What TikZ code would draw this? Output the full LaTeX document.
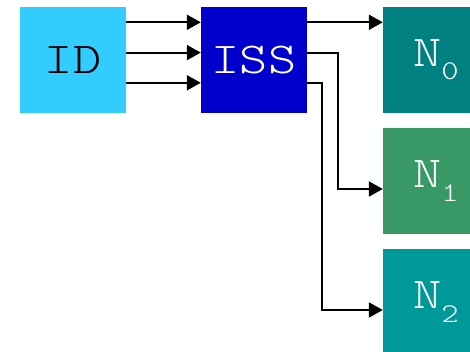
\documentclass[tikz,border=0pt]{standalone}
\usetikzlibrary{arrows.meta,calc}
\definecolor{idc}{HTML}{33CCFF}
\definecolor{issc}{HTML}{0000CC}
\definecolor{nzc}{HTML}{008080}
\definecolor{nonec}{HTML}{389966}
\definecolor{ntwoc}{HTML}{009999}
\newcommand{\wide}[1]{\scalebox{1.22}[1]{#1}}
\newcommand{\subn}[1]{\raisebox{-13.4pt}{\fontsize{27}{27}\selectfont\wide{#1}}}
\begin{document}
\begin{tikzpicture}[x=1pt,y=-1pt,
  box/.style={rectangle,minimum width=106pt,minimum height=106pt,inner sep=0pt,
    font=\fontsize{44}{44}\ttfamily\fontseries{l}\selectfont},
  arr/.style={line width=2pt,-{Triangle[length=14pt,width=15pt]}}]
\useasboundingbox (0,0) rectangle (470,352);
\clip (0,0) rectangle (470,352);
\node[box,fill=idc,text=black] (ID) at (73,60) {\wide{ID}};
\node[box,fill=issc,text=white] (ISS) at (254,60) {\wide{ISS}};
\node[box,fill=nzc,text=white] (N0) at (436,60) {\wide{N}\subn{0}};
\node[box,fill=nonec,text=white] (N1) at (436,181) {\wide{N}\subn{1}};
\node[box,fill=ntwoc,text=white] (N2) at (436,302) {\wide{N}\subn{2}};
\draw[arr] ($(ID.north east)+(0,15.5)$) -- ($(ISS.north west)+(0,15.5)$);
\draw[arr] ($(ID.north east)+(0,45.8)$) -- ($(ISS.north west)+(0,45.8)$);
\draw[arr] ($(ID.north east)+(0,76)$) -- ($(ISS.north west)+(0,76)$);
\draw[arr] ($(ISS.north east)+(0,15.5)$) -- ($(N0.north west)+(0,15.5)$);
\coordinate (a1) at ($(ISS.north east)+(0,45.8)$);
\coordinate (b1) at ($(N1.west)+(0,8)$);
\draw[arr] (a1) -- (338,0 |- a1) -- (338,0 |- b1) -- (b1);
\coordinate (a2) at ($(ISS.north east)+(0,76)$);
\coordinate (b2) at ($(N2.west)+(0,8)$);
\draw[arr] (a2) -- (322,0 |- a2) -- (322,0 |- b2) -- (b2);
\end{tikzpicture}
\end{document}
